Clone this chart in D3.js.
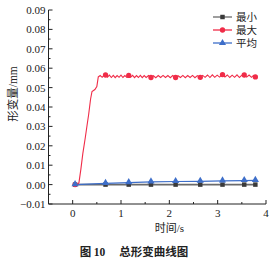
<!DOCTYPE html>
<html>
<head>
<meta charset="utf-8">
<script src="https://cdn.jsdelivr.net/npm/d3@7"></script>
<style>
body { margin: 0; background: #fff; }
svg { display: block; }
text { font-family: "Liberation Serif", "Times New Roman", serif; fill: #222; }
.cjk { font-family: "Noto Sans CJK SC", sans-serif; }
</style>
</head>
<body>
<svg width="274" height="259"></svg>
<script>
const width = 274, height = 259;

// marker times and values
const markT = [0.05, 0.68, 1.16, 1.62, 2.13, 2.64, 3.10, 3.55, 3.78];
const minV = [0, 0, 0, 0, 0, 0, 0, 0, 0];
const maxMarkV = [0, 0.0565, 0.0563, 0.0552, 0.0552, 0.0553, 0.0567, 0.0565, 0.0555];
const avgV = [0, 0.0006, 0.0010, 0.0014, 0.0016, 0.0017, 0.0019, 0.0021, 0.0022];

// full red curve (time, value)
const maxT = [0.05, 0.10, 0.13, 0.17, 0.21, 0.26, 0.30, 0.33, 0.37, 0.40, 0.46, 0.50, 0.53, 0.57, 0.61,
  0.64, 0.68, 0.72, 0.76, 0.80, 0.84, 0.88, 0.92, 0.96, 1.00, 1.04, 1.08, 1.12, 1.16, 1.20, 1.24,
  1.28, 1.32, 1.36, 1.40, 1.44, 1.48, 1.52, 1.57, 1.62, 1.67, 1.72, 1.77, 1.82, 1.87, 1.92, 1.97,
  2.02, 2.07, 2.13, 2.18, 2.23, 2.28, 2.33, 2.38, 2.43, 2.48, 2.53, 2.58, 2.64, 2.69, 2.74, 2.79,
  2.84, 2.89, 2.94, 2.99, 3.04, 3.10, 3.15, 3.20, 3.25, 3.30, 3.35, 3.40, 3.45, 3.50, 3.55, 3.60,
  3.65, 3.70, 3.74, 3.78];
const maxV = [0, 0, 0.001, 0.008, 0.016, 0.024, 0.031, 0.036, 0.044, 0.048, 0.049, 0.0505, 0.0555, 0.0562, 0.0553,
  0.0561, 0.0566, 0.0554, 0.0564, 0.0552, 0.0563, 0.0551, 0.0562, 0.0553, 0.0564, 0.0552, 0.0562, 0.0553, 0.0564, 0.0553, 0.0563,
  0.0551, 0.0562, 0.0552, 0.0563, 0.0551, 0.0562, 0.0552, 0.0562, 0.0551, 0.0561, 0.0551, 0.0562, 0.0552, 0.0563, 0.0552, 0.0562,
  0.0551, 0.0562, 0.0551, 0.0561, 0.0552, 0.0563, 0.0551, 0.0562, 0.0552, 0.0563, 0.0551, 0.0562, 0.0552, 0.0563, 0.0553, 0.0565,
  0.0552, 0.0566, 0.0553, 0.0564, 0.0554, 0.0568, 0.0555, 0.0565, 0.0552, 0.0564, 0.0553, 0.0566, 0.0552, 0.0564, 0.0566, 0.0554,
  0.0565, 0.0553, 0.0563, 0.0555];

const xTicks = [0, 1, 2, 3, 4];
const yTicks = [-0.01, 0, 0.01, 0.02, 0.03, 0.04, 0.05, 0.06, 0.07, 0.08, 0.09];
const legendNames = ["最小", "最大", "平均"];

const svg = d3.select("svg");
const x = d3.scaleLinear().domain([-0.5, 4]).range([48.5, 266]);
const y = d3.scaleLinear().domain([-0.01, 0.09]).range([204, 10]);

const red = "#f02c48", blue = "#3d6ec9", grayLine = "#6a6a6a", grayMark = "#3a3a3a";

// axes
svg.append("line").attr("x1", x(-0.5)).attr("x2", x(-0.5)).attr("y1", y(-0.01)).attr("y2", y(0.09))
  .attr("stroke", "#222").attr("stroke-width", 1);
svg.append("line").attr("x1", x(-0.5)).attr("x2", x(4)).attr("y1", y(-0.01)).attr("y2", y(-0.01))
  .attr("stroke", "#222").attr("stroke-width", 1);

yTicks.forEach((t, i) => {
  svg.append("line").attr("x1", x(-0.5)).attr("x2", x(-0.5) + 4).attr("y1", y(t)).attr("y2", y(t))
    .attr("stroke", "#222");
  if (i < yTicks.length - 1) {
    const m = t + 0.005;
    svg.append("line").attr("x1", x(-0.5)).attr("x2", x(-0.5) + 2).attr("y1", y(m)).attr("y2", y(m))
      .attr("stroke", "#222");
  }
  svg.append("text").attr("x", x(-0.5) - 3).attr("y", y(t) + 4).attr("text-anchor", "end")
    .attr("font-size", 11).text(t < 0 ? "\u2212" + Math.abs(t).toFixed(2) : t.toFixed(2));
});

xTicks.forEach(t => {
  svg.append("line").attr("x1", x(t)).attr("x2", x(t)).attr("y1", y(-0.01)).attr("y2", y(-0.01) - 4)
    .attr("stroke", "#222");
  svg.append("text").attr("x", x(t)).attr("y", 217).attr("text-anchor", "middle")
    .attr("font-size", 11).text(t);
});
[-0.5, 0.5, 1.5, 2.5, 3.5].forEach(t => {
  svg.append("line").attr("x1", x(t)).attr("x2", x(t)).attr("y1", y(-0.01)).attr("y2", y(-0.01) - 2)
    .attr("stroke", "#222");
});

// axis titles
const xl = svg.append("text").attr("x", x(2)).attr("y", 232).attr("text-anchor", "middle").attr("font-size", 11);
xl.append("tspan").attr("class", "cjk").text("时间");
xl.append("tspan").text("/s");
const yl = svg.append("text").attr("transform", "translate(17,94) rotate(-90)").attr("text-anchor", "middle")
  .attr("font-size", 11.5);
yl.append("tspan").attr("class", "cjk").text("形变量");
yl.append("tspan").text("/mm");

// series
const line = d3.line().x(d => x(d[0])).y(d => y(d[1]));

svg.append("path").datum(markT.map((t, i) => [t, minV[i]])).attr("d", line)
  .attr("fill", "none").attr("stroke", grayLine).attr("stroke-width", 1.6);
svg.append("path").datum(maxT.map((t, i) => [t, maxV[i]])).attr("d", line)
  .attr("fill", "none").attr("stroke", red).attr("stroke-width", 1.1);
svg.append("path").datum(markT.map((t, i) => [t, avgV[i]])).attr("d", line)
  .attr("fill", "none").attr("stroke", blue).attr("stroke-width", 1.2);

const sq = d3.symbol().type(d3.symbolSquare).size(20);
const ci = d3.symbol().type(d3.symbolCircle).size(22);
const tr = d3.symbol().type(d3.symbolTriangle).size(22);

svg.selectAll(".mn").data(markT).join("path").attr("d", sq)
  .attr("transform", (t, i) => `translate(${x(t)},${y(minV[i])})`).attr("fill", grayMark);
svg.selectAll(".mx").data(markT).join("path").attr("d", ci)
  .attr("transform", (t, i) => `translate(${x(t)},${y(maxMarkV[i])})`).attr("fill", red);
svg.selectAll(".av").data(markT).join("path").attr("d", tr)
  .attr("transform", (t, i) => `translate(${x(t)},${y(avgV[i]) - 0.5})`).attr("fill", blue);

// legend
const lColors = [[grayLine, grayMark, sq], [red, red, ci], [blue, blue, tr]];
legendNames.forEach((n, i) => {
  const ly = 17 + i * 13;
  svg.append("line").attr("x1", 213).attr("x2", 232).attr("y1", ly).attr("y2", ly)
    .attr("stroke", lColors[i][0]).attr("stroke-width", 1.3);
  svg.append("path").attr("d", lColors[i][2]).attr("transform", `translate(222.5,${ly})`)
    .attr("fill", lColors[i][1]);
  svg.append("text").attr("class", "cjk").attr("x", 236).attr("y", ly + 3.8).attr("font-size", 10.5).text(n);
});

// caption
const cap = svg.append("text").attr("x", 134).attr("y", 256).attr("text-anchor", "middle")
  .attr("font-size", 11.5).attr("font-weight", "bold");
cap.append("tspan").attr("class", "cjk").text("图 ");
cap.append("tspan").text("10");
cap.append("tspan").attr("class", "cjk").attr("dx", 14).text("总形变曲线图");
</script>
</body>
</html>
